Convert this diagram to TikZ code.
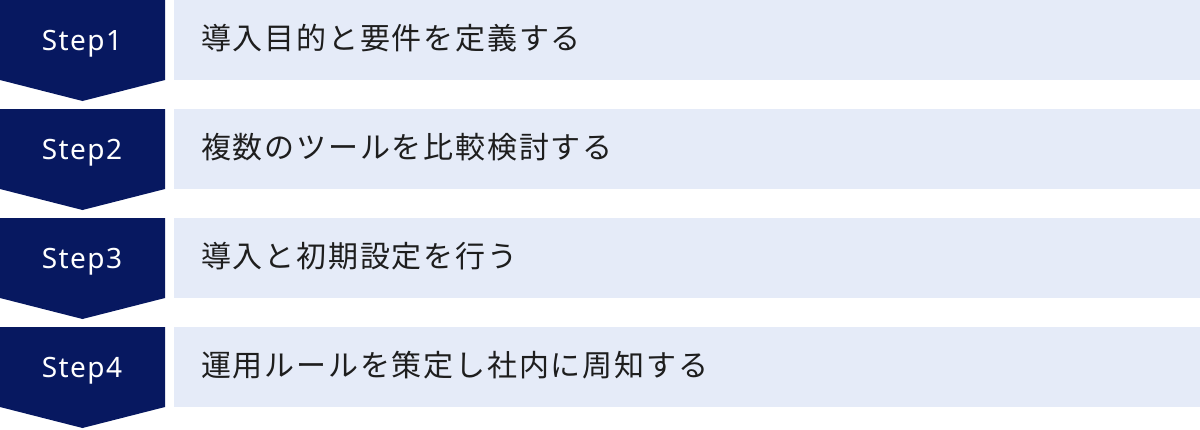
\documentclass[tikz,border=0pt]{standalone}
\usepackage{fontspec}
\newfontfamily\jpfont[LetterSpace=6]{Noto Sans CJK JP}
\newfontfamily\stepfont[LetterSpace=5]{Noto Sans}
\definecolor{navy}{HTML}{071860}
\definecolor{paleblue}{HTML}{E5EBF8}
\definecolor{inkgray}{HTML}{1E1E1E}
\tikzset{
  steplabel/.style={text=white,font=\stepfont\fontsize{28}{32}\selectfont,inner sep=0pt,anchor=base},
  tasktext/.style={text=inkgray,font=\jpfont\fontsize{30}{34}\selectfont,anchor=base west,inner sep=0pt}
}
\begin{document}
\begin{tikzpicture}[x=1pt,y=-1pt,line join=round]
 \useasboundingbox (0,0) rectangle (1200,429);
 \foreach \n/\txt in {1/導入目的と要件を定義する,2/複数のツールを比較検討する,3/導入と初期設定を行う,4/運用ルールを策定し社内に周知する}{
  \pgfmathsetmacro\top{(\n-1)*109}
  \fill[navy] (0,\top) -- (165,\top) -- (165,\top+80) -- (82.5,\top+101) -- (0,\top+80) -- cycle;
  \fill[paleblue] (174,\top) rectangle (1200,\top+80);
  \node[steplabel] (step\n) at (82,\top+50.5) {Step\n};
  \node[tasktext] (task\n) at (201,\top+49) {\txt};
 }
\end{tikzpicture}
\end{document}
